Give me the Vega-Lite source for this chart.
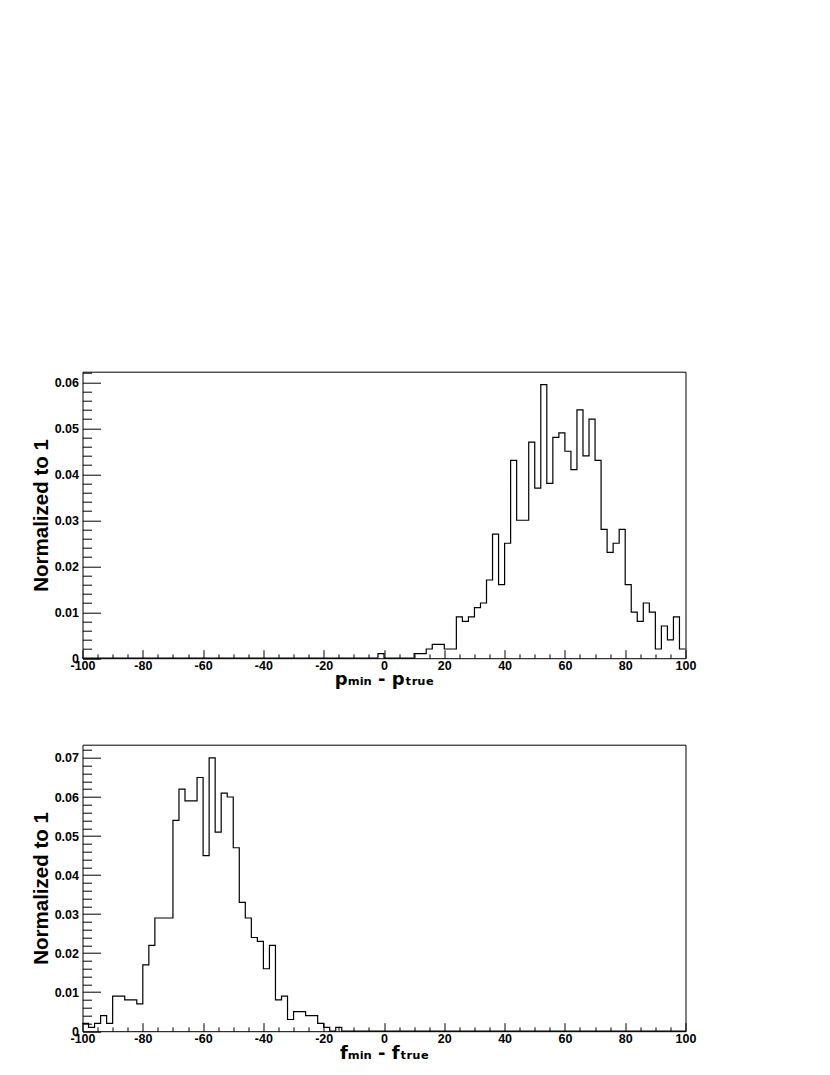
{
  "$schema": "https://vega.github.io/schema/vega-lite/v6.json",
  "autosize": {"type": "none"},
  "padding": {"left": 82.5, "top": 371.7, "right": 747.5, "bottom": 703.3},
  "background": "white",
  "config": {
    "view": {"stroke": "black", "strokeWidth": 1},
    "axis": {
      "domain": false, "grid": false,
      "labelFont": "Liberation Sans", "labelFontWeight": "bold", "labelFontSize": 12.5, "labelColor": "black",
      "titleFont": "Liberation Sans", "titleFontWeight": "bold", "titleColor": "black",
      "tickColor": "black", "tickWidth": 1,
      "labelFlush": false, "labelOverlap": false, "labelBound": false
    }
  },
  "datasets": {
    "top": [
      {"a":-100,"b":-98,"v":0},{"a":-98,"b":-96,"v":0},{"a":-96,"b":-94,"v":0},{"a":-94,"b":-92,"v":0},{"a":-92,"b":-90,"v":0},
      {"a":-90,"b":-88,"v":0},{"a":-88,"b":-86,"v":0},{"a":-86,"b":-84,"v":0},{"a":-84,"b":-82,"v":0},{"a":-82,"b":-80,"v":0},
      {"a":-80,"b":-78,"v":0},{"a":-78,"b":-76,"v":0},{"a":-76,"b":-74,"v":0},{"a":-74,"b":-72,"v":0},{"a":-72,"b":-70,"v":0},
      {"a":-70,"b":-68,"v":0},{"a":-68,"b":-66,"v":0},{"a":-66,"b":-64,"v":0},{"a":-64,"b":-62,"v":0},{"a":-62,"b":-60,"v":0},
      {"a":-60,"b":-58,"v":0},{"a":-58,"b":-56,"v":0},{"a":-56,"b":-54,"v":0},{"a":-54,"b":-52,"v":0},{"a":-52,"b":-50,"v":0},
      {"a":-50,"b":-48,"v":0},{"a":-48,"b":-46,"v":0},{"a":-46,"b":-44,"v":0},{"a":-44,"b":-42,"v":0},{"a":-42,"b":-40,"v":0},
      {"a":-40,"b":-38,"v":0},{"a":-38,"b":-36,"v":0},{"a":-36,"b":-34,"v":0},{"a":-34,"b":-32,"v":0},{"a":-32,"b":-30,"v":0},
      {"a":-30,"b":-28,"v":0},{"a":-28,"b":-26,"v":0},{"a":-26,"b":-24,"v":0},{"a":-24,"b":-22,"v":0},{"a":-22,"b":-20,"v":0},
      {"a":-20,"b":-18,"v":0},{"a":-18,"b":-16,"v":0},{"a":-16,"b":-14,"v":0},{"a":-14,"b":-12,"v":0},{"a":-12,"b":-10,"v":0},
      {"a":-10,"b":-8,"v":0},{"a":-8,"b":-6,"v":0},{"a":-6,"b":-4,"v":0},{"a":-4,"b":-2,"v":0},{"a":-2,"b":0,"v":0.001},
      {"a":0,"b":2,"v":0},{"a":2,"b":4,"v":0},{"a":4,"b":6,"v":0},{"a":6,"b":8,"v":0},{"a":8,"b":10,"v":0},
      {"a":10,"b":12,"v":0.001},{"a":12,"b":14,"v":0.001},{"a":14,"b":16,"v":0.002},{"a":16,"b":18,"v":0.003},{"a":18,"b":20,"v":0.003},
      {"a":20,"b":22,"v":0.002},{"a":22,"b":24,"v":0.002},{"a":24,"b":26,"v":0.009},{"a":26,"b":28,"v":0.008},{"a":28,"b":30,"v":0.009},
      {"a":30,"b":32,"v":0.011},{"a":32,"b":34,"v":0.012},{"a":34,"b":36,"v":0.017},{"a":36,"b":38,"v":0.027},{"a":38,"b":40,"v":0.016},
      {"a":40,"b":42,"v":0.025},{"a":42,"b":44,"v":0.043},{"a":44,"b":46,"v":0.030},{"a":46,"b":48,"v":0.030},{"a":48,"b":50,"v":0.047},
      {"a":50,"b":52,"v":0.037},{"a":52,"b":54,"v":0.0595},{"a":54,"b":56,"v":0.038},{"a":56,"b":58,"v":0.048},{"a":58,"b":60,"v":0.049},
      {"a":60,"b":62,"v":0.045},{"a":62,"b":64,"v":0.041},{"a":64,"b":66,"v":0.054},{"a":66,"b":68,"v":0.044},{"a":68,"b":70,"v":0.052},
      {"a":70,"b":72,"v":0.043},{"a":72,"b":74,"v":0.028},{"a":74,"b":76,"v":0.023},{"a":76,"b":78,"v":0.025},{"a":78,"b":80,"v":0.028},
      {"a":80,"b":82,"v":0.016},{"a":82,"b":84,"v":0.010},{"a":84,"b":86,"v":0.008},{"a":86,"b":88,"v":0.012},{"a":88,"b":90,"v":0.010},
      {"a":90,"b":92,"v":0.002},{"a":92,"b":94,"v":0.007},{"a":94,"b":96,"v":0.004},{"a":96,"b":98,"v":0.009},{"a":98,"b":100,"v":0.002}
    ],
    "bot": [
      {"a":-100,"b":-98,"v":0.002},{"a":-98,"b":-96,"v":0.001},{"a":-96,"b":-94,"v":0.002},{"a":-94,"b":-92,"v":0.004},{"a":-92,"b":-90,"v":0.002},
      {"a":-90,"b":-88,"v":0.009},{"a":-88,"b":-86,"v":0.009},{"a":-86,"b":-84,"v":0.008},{"a":-84,"b":-82,"v":0.008},{"a":-82,"b":-80,"v":0.007},
      {"a":-80,"b":-78,"v":0.017},{"a":-78,"b":-76,"v":0.022},{"a":-76,"b":-74,"v":0.029},{"a":-74,"b":-72,"v":0.029},{"a":-72,"b":-70,"v":0.029},
      {"a":-70,"b":-68,"v":0.054},{"a":-68,"b":-66,"v":0.062},{"a":-66,"b":-64,"v":0.059},{"a":-64,"b":-62,"v":0.059},{"a":-62,"b":-60,"v":0.065},
      {"a":-60,"b":-58,"v":0.045},{"a":-58,"b":-56,"v":0.070},{"a":-56,"b":-54,"v":0.051},{"a":-54,"b":-52,"v":0.061},{"a":-52,"b":-50,"v":0.060},
      {"a":-50,"b":-48,"v":0.047},{"a":-48,"b":-46,"v":0.033},{"a":-46,"b":-44,"v":0.029},{"a":-44,"b":-42,"v":0.024},{"a":-42,"b":-40,"v":0.023},
      {"a":-40,"b":-38,"v":0.016},{"a":-38,"b":-36,"v":0.022},{"a":-36,"b":-34,"v":0.008},{"a":-34,"b":-32,"v":0.009},{"a":-32,"b":-30,"v":0.003},
      {"a":-30,"b":-28,"v":0.005},{"a":-28,"b":-26,"v":0.005},{"a":-26,"b":-24,"v":0.004},{"a":-24,"b":-22,"v":0.004},{"a":-22,"b":-20,"v":0.002},
      {"a":-20,"b":-18,"v":0.001},{"a":-18,"b":-16,"v":0},{"a":-16,"b":-14,"v":0.001},{"a":-14,"b":-12,"v":0},{"a":-12,"b":-10,"v":0},
      {"a":-10,"b":-8,"v":0},{"a":-8,"b":-6,"v":0},{"a":-6,"b":-4,"v":0},{"a":-4,"b":-2,"v":0},{"a":-2,"b":0,"v":0},
      {"a":0,"b":2,"v":0},{"a":2,"b":4,"v":0},{"a":4,"b":6,"v":0},{"a":6,"b":8,"v":0},{"a":8,"b":10,"v":0},
      {"a":10,"b":12,"v":0},{"a":12,"b":14,"v":0},{"a":14,"b":16,"v":0},{"a":16,"b":18,"v":0},{"a":18,"b":20,"v":0},
      {"a":20,"b":22,"v":0},{"a":22,"b":24,"v":0},{"a":24,"b":26,"v":0},{"a":26,"b":28,"v":0},{"a":28,"b":30,"v":0},
      {"a":30,"b":32,"v":0},{"a":32,"b":34,"v":0},{"a":34,"b":36,"v":0},{"a":36,"b":38,"v":0},{"a":38,"b":40,"v":0},
      {"a":40,"b":42,"v":0},{"a":42,"b":44,"v":0},{"a":44,"b":46,"v":0},{"a":46,"b":48,"v":0},{"a":48,"b":50,"v":0},
      {"a":50,"b":52,"v":0},{"a":52,"b":54,"v":0},{"a":54,"b":56,"v":0},{"a":56,"b":58,"v":0},{"a":58,"b":60,"v":0},
      {"a":60,"b":62,"v":0},{"a":62,"b":64,"v":0},{"a":64,"b":66,"v":0},{"a":66,"b":68,"v":0},{"a":68,"b":70,"v":0},
      {"a":70,"b":72,"v":0},{"a":72,"b":74,"v":0},{"a":74,"b":76,"v":0},{"a":76,"b":78,"v":0},{"a":78,"b":80,"v":0},
      {"a":80,"b":82,"v":0},{"a":82,"b":84,"v":0},{"a":84,"b":86,"v":0},{"a":86,"b":88,"v":0},{"a":88,"b":90,"v":0},
      {"a":90,"b":92,"v":0},{"a":92,"b":94,"v":0},{"a":94,"b":96,"v":0},{"a":96,"b":98,"v":0},{"a":98,"b":100,"v":0}
    ]
  },
  "bounds": "flush",
  "spacing": 86,
  "vconcat": [
    {
      "width": 603, "height": 286.5,
      "data": {"name": "top"},
      "transform": [{"fold": ["a", "b"], "as": ["k", "x"]}],
      "layer": [
        {
          "mark": {"type": "line", "color": "black", "strokeWidth": 1.2, "interpolate": "linear"},
          "encoding": {
            "x": {"field": "x", "type": "quantitative",
              "scale": {"domain": [-100, 100], "nice": false, "zero": false},
              "axis": {"orient": "bottom", "values": [-100,-80,-60,-40,-20,0,20,40,60,80,100], "tickSize": -8.5, "labelPadding": 10,
                "labelExpr": "replace(datum.label, '\u2212', '-')",
                "title": "p\u2098\u1d62\u2099 - p\u209c\u1d63\u1d64\u2091", "titleFont": "DejaVu Sans", "titleFontSize": 18, "titleX": 301.5, "titleY": 26,
                "titleAlign": "center", "titleBaseline": "alphabetic", "titleAnchor": null}},
            "y": {"field": "v", "type": "quantitative",
              "scale": {"domain": [0, 0.0623], "nice": false},
              "axis": {"orient": "left", "values": [0,0.01,0.02,0.03,0.04,0.05,0.06], "format": ".2~f", "tickSize": -18, "labelPadding": 22,
                "title": "Normalized to 1", "titleFontSize": 20.5, "titleAngle": 270, "titleX": -35, "titleY": 143.25,
                "titleAlign": "center", "titleBaseline": "alphabetic", "titleAnchor": null}},
            "order": [{"field": "a", "type": "quantitative"}, {"field": "x", "type": "quantitative"}]
          }
        },
        {
          "mark": {"type": "point", "opacity": 0},
          "encoding": {
            "x": {"field": "x", "type": "quantitative",
              "axis": {"orient": "bottom", "values": [-95,-90,-85,-75,-70,-65,-55,-50,-45,-35,-30,-25,-15,-10,-5,5,10,15,25,30,35,45,50,55,65,70,75,85,90,95], "tickSize": -4.3, "labels": false, "title": null}},
            "y": {"field": "v", "type": "quantitative",
              "axis": {"orient": "left", "values": [0.002,0.004,0.006,0.008,0.012,0.014,0.016,0.018,0.022,0.024,0.026,0.028,0.032,0.034,0.036,0.038,0.042,0.044,0.046,0.048,0.052,0.054,0.056,0.058,0.062], "tickSize": -9, "labels": false, "title": null}}
          }
        }
      ],
      "resolve": {"axis": {"x": "independent", "y": "independent"}}
    },
    {
      "width": 603, "height": 286.5,
      "data": {"name": "bot"},
      "transform": [{"fold": ["a", "b"], "as": ["k", "x"]}],
      "layer": [
        {
          "mark": {"type": "line", "color": "black", "strokeWidth": 1.2, "interpolate": "linear"},
          "encoding": {
            "x": {"field": "x", "type": "quantitative",
              "scale": {"domain": [-100, 100], "nice": false, "zero": false},
              "axis": {"orient": "bottom", "values": [-100,-80,-60,-40,-20,0,20,40,60,80,100], "tickSize": -8.5, "labelPadding": 10,
                "labelExpr": "replace(datum.label, '\u2212', '-')",
                "title": "f\u2098\u1d62\u2099 - f\u209c\u1d63\u1d64\u2091", "titleFont": "DejaVu Sans", "titleFontSize": 18, "titleX": 301.5, "titleY": 27,
                "titleAlign": "center", "titleBaseline": "alphabetic", "titleAnchor": null}},
            "y": {"field": "v", "type": "quantitative",
              "scale": {"domain": [0, 0.0734], "nice": false},
              "axis": {"orient": "left", "values": [0,0.01,0.02,0.03,0.04,0.05,0.06,0.07], "format": ".2~f", "tickSize": -18, "labelPadding": 22,
                "title": "Normalized to 1", "titleFontSize": 20.5, "titleAngle": 270, "titleX": -35, "titleY": 143.25,
                "titleAlign": "center", "titleBaseline": "alphabetic", "titleAnchor": null}},
            "order": [{"field": "a", "type": "quantitative"}, {"field": "x", "type": "quantitative"}]
          }
        },
        {
          "mark": {"type": "point", "opacity": 0},
          "encoding": {
            "x": {"field": "x", "type": "quantitative",
              "axis": {"orient": "bottom", "values": [-95,-90,-85,-75,-70,-65,-55,-50,-45,-35,-30,-25,-15,-10,-5,5,10,15,25,30,35,45,50,55,65,70,75,85,90,95], "tickSize": -4.3, "labels": false, "title": null}},
            "y": {"field": "v", "type": "quantitative",
              "axis": {"orient": "left", "values": [0.002,0.004,0.006,0.008,0.012,0.014,0.016,0.018,0.022,0.024,0.026,0.028,0.032,0.034,0.036,0.038,0.042,0.044,0.046,0.048,0.052,0.054,0.056,0.058,0.062,0.064,0.066,0.068,0.072], "tickSize": -9, "labels": false, "title": null}}
          }
        }
      ],
      "resolve": {"axis": {"x": "independent", "y": "independent"}}
    }
  ]
}
